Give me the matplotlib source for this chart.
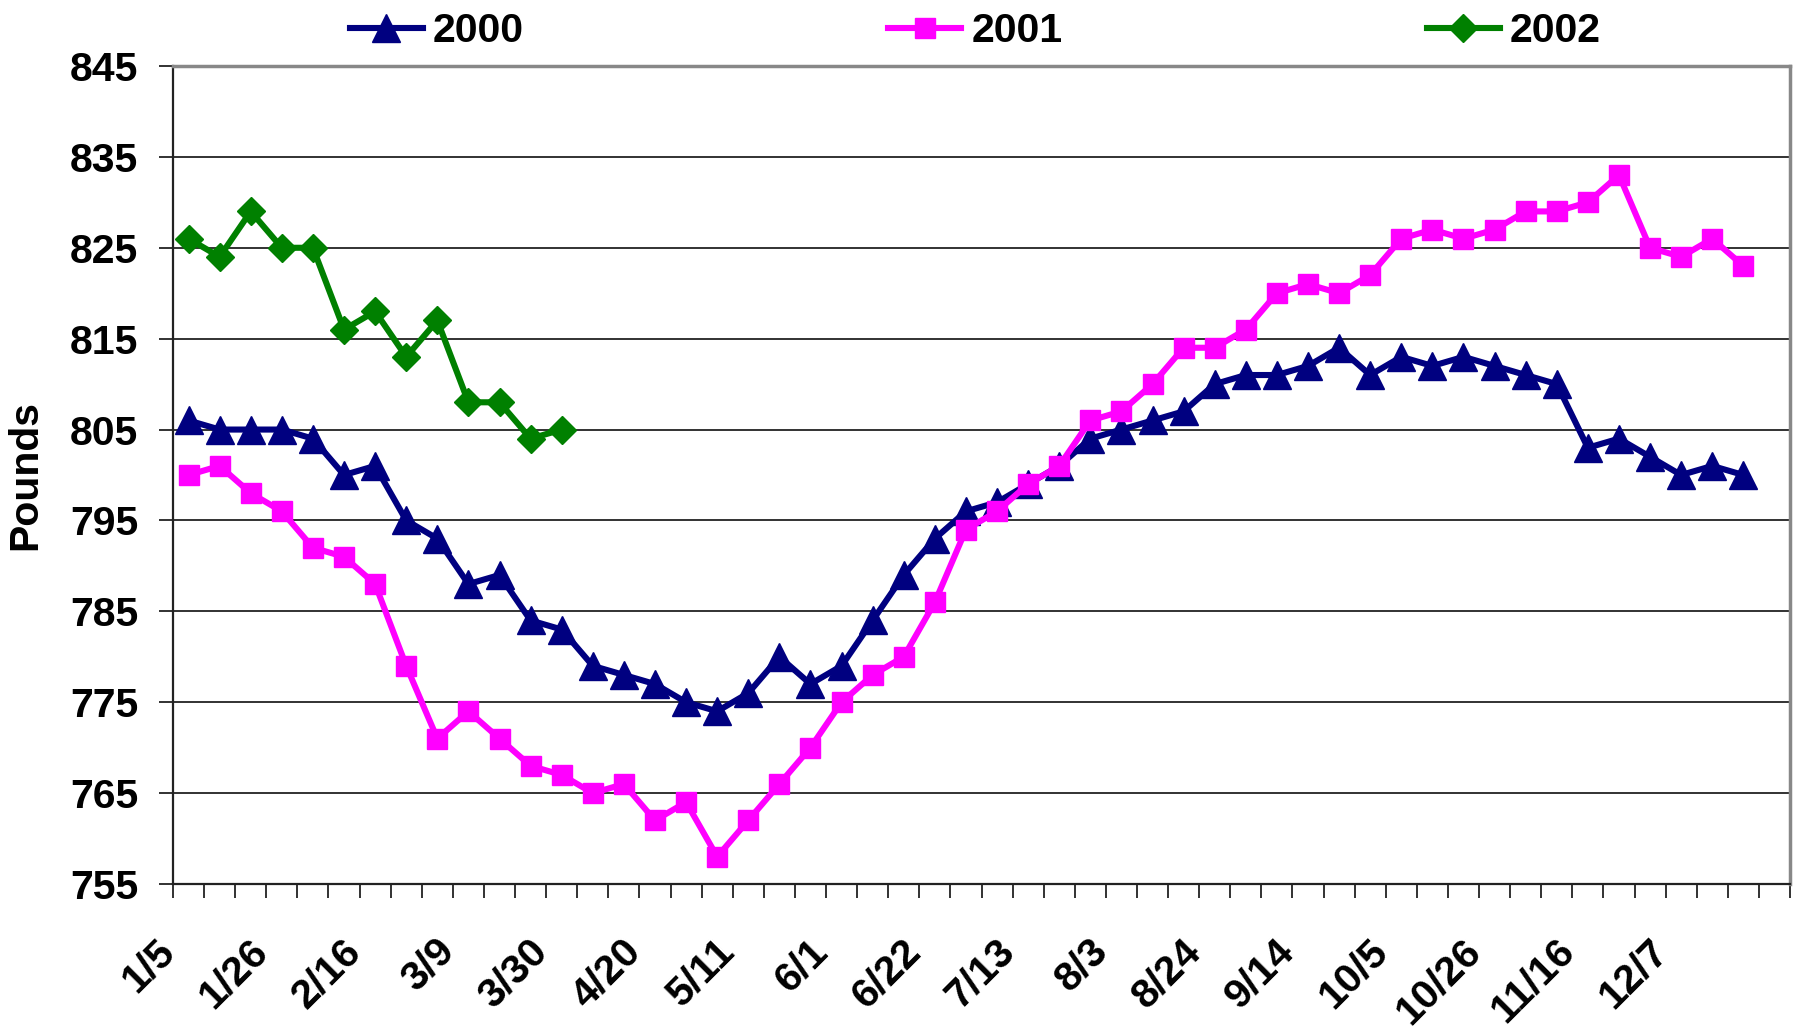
import matplotlib
matplotlib.use("Agg")
import matplotlib.pyplot as plt
from matplotlib.transforms import ScaledTranslation

plt.rcParams['font.family'] = ['Liberation Sans', 'DejaVu Sans']

# ---- data ----
n_weeks = 52
tick_labels = ['1/5', '1/26', '2/16', '3/9', '3/30', '4/20', '5/11', '6/1', '6/22',
               '7/13', '8/3', '8/24', '9/14', '10/5', '10/26', '11/16', '12/7']
label_step = 3

y2000 = [806, 805, 805, 805, 804, 800, 801, 795, 793, 788, 789, 784, 783, 779, 778,
         777, 775, 774, 776, 780, 777, 779, 784, 789, 793, 796, 797, 799, 801, 804,
         805, 806, 807, 810, 811, 811, 812, 814, 811, 813, 812, 813, 812, 811, 810,
         803, 804, 802, 800, 801, 800]
y2001 = [800, 801, 798, 796, 792, 791, 788, 779, 771, 774, 771, 768, 767, 765, 766,
         762, 764, 758, 762, 766, 770, 775, 778, 780, 786, 794, 796, 799, 801, 806,
         807, 810, 814, 814, 816, 820, 821, 820, 822, 826, 827, 826, 827, 829, 829,
         830, 833, 825, 824, 826, 823]
y2002 = [826, 824, 829, 825, 825, 816, 818, 813, 817, 808, 808, 804, 805]

series_names = ['2000', '2001', '2002']
colors = ['#000080', '#FF00FF', '#008000']

y_min, y_max, y_step = 755, 845, 10

# ---- figure ----
W, H, DPI = 1796, 1031, 100
fig = plt.figure(figsize=(W / DPI, H / DPI), dpi=DPI)
ax = fig.add_axes([173 / W, 1 - 884 / H, (1790 - 173) / W, (884 - 66) / H])

lw = 4.4
ax.plot(range(len(y2000)), y2000, color=colors[0], lw=lw, marker='^', ms=19.5,
        mec=colors[0], mew=1, label=series_names[0], zorder=3)
ax.plot(range(len(y2001)), y2001, color=colors[1], lw=lw, marker='s', ms=15,
        mec=colors[1], mew=1, label=series_names[1], zorder=3)
ax.plot(range(len(y2002)), y2002, color=colors[2], lw=lw, marker='D', ms=14.5,
        mec=colors[2], mew=1, label=series_names[2], zorder=4)

ax.set_xlim(-0.5, n_weeks - 0.5)
ax.set_ylim(y_min, y_max)

yt = list(range(y_min, y_max + 1, y_step))
ax.set_yticks(yt)
ax.set_yticklabels([str(v) for v in yt], fontsize=29.5, fontweight='bold')
ax.tick_params(axis='y', length=10, width=1.3, color='#222222', pad=15, direction='out')
ax.yaxis.grid(True, color='#222222', lw=1.3)
ax.set_axisbelow(True)

# x: tick marks at category boundaries, labels every 3rd category
ax.set_xticks([i - 0.5 for i in range(n_weeks + 1)], minor=True)
ax.set_xticks(list(range(0, n_weeks, label_step))[:len(tick_labels)])
ax.set_xticklabels(tick_labels, fontsize=29.5, fontweight='bold', rotation=45,
                   ha='right', va='center', rotation_mode='anchor')
ax.tick_params(axis='x', which='minor', length=10, width=1.3, color='#222222', direction='out')
ax.tick_params(axis='x', which='major', length=0, pad=44)
off = ScaledTranslation(-20 / DPI, 0, fig.dpi_scale_trans)
for lab in ax.get_xticklabels():
    lab.set_transform(lab.get_transform() + off)

for s in ['left', 'bottom']:
    ax.spines[s].set_color('#222222')
    ax.spines[s].set_linewidth(1.6)
for s in ['top', 'right']:
    ax.spines[s].set_color('#888888')
    ax.spines[s].set_linewidth(2.5)

fig.text(25 / W, 1 - 475 / H, 'Pounds', rotation=90, fontsize=29.5, fontweight='bold',
         ha='center', va='center')

leg = fig.legend(loc='center left', bbox_to_anchor=(350 / W, 1 - 31 / H), ncol=3,
                 frameon=False, prop={'size': 29.5, 'weight': 'bold'},
                 handlelength=1.78, handletextpad=0.24, columnspacing=8.9,
                 borderpad=0, borderaxespad=0)

fig.savefig('out.png', dpi=DPI)
